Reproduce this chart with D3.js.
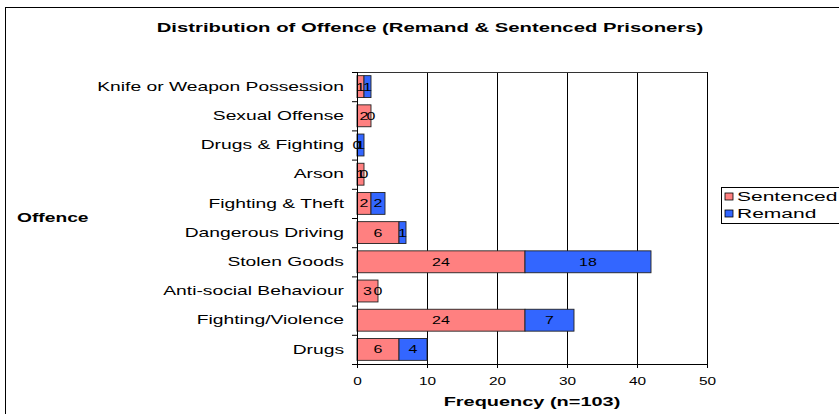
<!DOCTYPE html>
<html>
<head>
<meta charset="utf-8">
<script src="https://cdn.jsdelivr.net/npm/d3@7"></script>
<style>
	html, body { margin: 0; padding: 0; background: #fff; }
	svg { display: block; font-family: 'Liberation Sans', Arial, sans-serif; }
	.axis path { display: none; }
	.axis line { stroke: #000; }
</style>
</head>
<body>
<div id="chart"></div>
<script>
var categories = ['Drugs', 'Fighting/Violence', 'Anti-social Behaviour', 'Stolen Goods', 'Dangerous Driving',
	'Fighting & Theft', 'Arson', 'Drugs & Fighting', 'Sexual Offense', 'Knife or Weapon Possession'];
var sentenced = [6, 24, 3, 24, 6, 2, 1, 0, 2, 1];
var remand = [4, 7, 0, 18, 1, 2, 0, 1, 0, 1];
var seriesNames = ['Sentenced', 'Remand'];
var xTicks = [0, 10, 20, 30, 40, 50];
var titleText = 'Distribution of Offence (Remand & Sentenced Prisoners)';
var xTitle = 'Frequency (n=103)';
var yTitle = 'Offence';

var colors = ['#ff8080', '#3366ff'];
var fullWidth = 839, fullHeight = 414;
var margin = { top: 72, left: 357 };
var width = 350, height = 292;

// the original picture is stretched sideways, so text is too
function stretch(sel, k) {
	sel.each(function() {
		var len = this.getComputedTextLength();
		d3.select(this).attr('textLength', len * k).attr('lengthAdjust', 'spacingAndGlyphs');
	});
}

var svg = d3.select('#chart').append('svg')
	.attr('width', fullWidth)
	.attr('height', fullHeight);

svg.append('rect')
	.attr('x', 5.5).attr('y', 7.5)
	.attr('width', 900).attr('height', 450)
	.attr('fill', '#fff').attr('stroke', '#000');

svg.append('text')
	.attr('x', 430).attr('y', 32)
	.attr('text-anchor', 'middle')
	.style('font-size', '13px').style('font-weight', 'bold')
	.text(titleText)
	.call(stretch, 1.56);

var x = d3.scaleLinear().domain([0, 50]).range([0, width]);
var y = d3.scaleBand()
	.domain(categories.slice().reverse())
	.range([0, height])
	.paddingInner(0.25)
	.paddingOuter(0.125);
var yEdges = d3.scaleLinear().domain([0, categories.length]).range([height, 0]);

var chartArea = svg.append('g')
	.attr('transform', 'translate(' + margin.left + ',' + margin.top + ')');

// grid lines
chartArea.append('g')
	.attr('class', 'axis grid')
	.attr('transform', 'translate(0,' + height + ')')
	.call(d3.axisBottom(x).tickValues(xTicks.slice(1)).tickSize(-height).tickFormat(''))
	.selectAll('line').attr('stroke', '#333');

chartArea.append('line')
	.attr('x1', 0).attr('x2', width)
	.attr('y1', 0.5).attr('y2', 0.5)
	.attr('stroke', '#333');

var rows = categories.map(function(c, i) {
	return { name: c, values: [sentenced[i], remand[i]] };
});

var row = chartArea.selectAll('.row')
	.data(rows)
	.enter().append('g')
	.attr('class', 'row')
	.attr('transform', function(d) { return 'translate(0,' + y(d.name) + ')'; });

var segs = row.selectAll('.seg')
	.data(function(d) {
		var start = 0;
		return d.values.map(function(v, j) {
			var s = { x0: start, x1: start + v, v: v, j: j };
			start += v;
			return s;
		});
	})
	.enter();

segs.filter(function(d) { return d.v > 0; })
	.append('rect')
	.attr('x', function(d) { return x(d.x0); })
	.attr('width', function(d) { return x(d.x1) - x(d.x0); })
	.attr('height', y.bandwidth())
	.attr('fill', function(d) { return colors[d.j]; })
	.attr('stroke', '#222')
	.attr('stroke-width', 0.9);

segs.append('text')
	.attr('x', function(d) { return x((d.x0 + d.x1) / 2); })
	.attr('y', y.bandwidth() / 2 + 4)
	.attr('text-anchor', 'middle')
	.style('font-size', '11px')
	.text(function(d) { return d.v; })
	.call(stretch, 1.45);

// y axis
chartArea.append('g')
	.attr('class', 'axis y')
	.call(d3.axisLeft(yEdges).ticks(categories.length).tickSize(5).tickFormat(''));

chartArea.append('g')
	.attr('class', 'axis ylabels')
	.call(d3.axisLeft(y).tickSize(0).tickPadding(13))
	.selectAll('text')
	.style('font-size', '13px')
	.style('fill', '#000')
	.call(stretch, 1.48);

chartArea.append('line')
	.attr('x1', 0.5).attr('x2', 0.5)
	.attr('y1', 0).attr('y2', height)
	.attr('stroke', '#000');

// x axis
chartArea.append('g')
	.attr('class', 'axis x')
	.attr('transform', 'translate(0,' + height + ')')
	.call(d3.axisBottom(x).tickValues(xTicks).tickSize(4).tickPadding(9))
	.selectAll('text')
	.style('font-size', '11px')
	.style('fill', '#000')
	.call(stretch, 1.4);

chartArea.append('line')
	.attr('x1', 0).attr('x2', width)
	.attr('y1', height + 0.5).attr('y2', height + 0.5)
	.attr('stroke', '#000');

svg.append('text')
	.attr('x', margin.left + width / 2).attr('y', 406)
	.attr('text-anchor', 'middle')
	.style('font-size', '12px').style('font-weight', 'bold')
	.text(xTitle)
	.call(stretch, 1.66);

svg.append('text')
	.attr('x', 17).attr('y', 222)
	.style('font-size', '12px').style('font-weight', 'bold')
	.text(yTitle)
	.call(stretch, 1.6);

// legend
var legend = svg.append('g')
	.attr('transform', 'translate(721,187)');

legend.append('rect')
	.attr('x', 0.5).attr('y', 0.5)
	.attr('width', 150).attr('height', 36)
	.attr('fill', '#fff').attr('stroke', '#000');

var item = legend.selectAll('.item')
	.data(seriesNames)
	.enter().append('g')
	.attr('class', 'item')
	.attr('transform', function(d, i) { return 'translate(4,' + (10 + i * 17) + ')'; });

item.append('rect')
	.attr('x', 0).attr('y', -4)
	.attr('width', 8).attr('height', 7)
	.attr('fill', function(d, i) { return colors[i]; })
	.attr('stroke', '#000')
	.attr('stroke-width', 0.8);

item.append('text')
	.attr('x', 12).attr('y', 4)
	.style('font-size', '12px')
	.text(function(d) { return d; })
	.call(stretch, 1.75);
</script>
</body>
</html>
